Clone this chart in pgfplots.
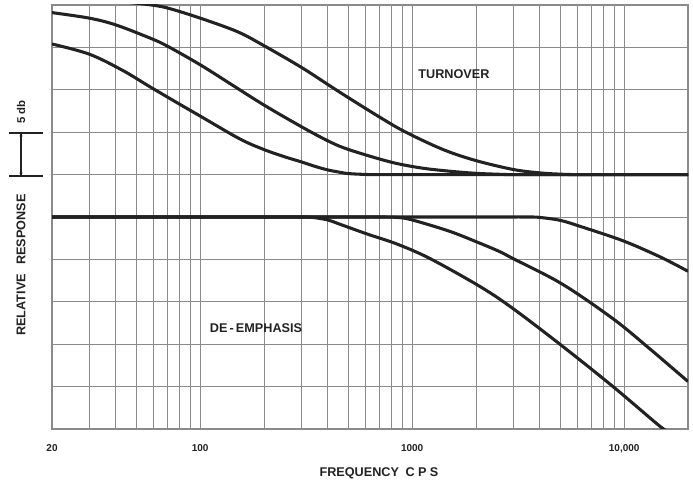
\documentclass[border=0pt]{standalone}
\usepackage{fontspec}
\setmainfont{Liberation Sans}
\usepackage{pgfplots}
\pgfplotsset{compat=1.18}
\definecolor{gridc}{HTML}{8A8A8A}
\definecolor{ink}{HTML}{222222}
\tikzset{curve/.style={ink, line width=2.3pt, smooth, tension=0.55, mark=none}}
\begin{document}
\begin{tikzpicture}[x=0.75pt,y=0.75pt]
\useasboundingbox (0,0) rectangle (693,484);
\begin{axis}[
  at={(39pt,41.25pt)}, anchor=south west,
  scale only axis, width=477pt, height=318pt,
  xmode=log, xmin=20, xmax=20000, ymin=-30, ymax=20,
  xtick={20,100,1000,10000,20000},
  xticklabels={20,100,1000,{10,000},},
  minor xtick={30,40,50,60,70,80,90,200,300,400,500,600,700,800,900,2000,3000,4000,5000,6000,7000,8000,9000},
  ytick={-30,-25,...,20}, yticklabels={},
  major tick length=0pt, minor tick length=0pt,
  grid=both,
  major grid style={gridc, line width=0.7pt},
  minor grid style={gridc, line width=0.7pt},
  axis line style={gridc, line width=0.8pt},
  /pgf/number format/assume math mode=true,
  xticklabel style={font=\bfseries\fontsize{7.5}{9}\selectfont, text=ink, yshift=-8pt},
  clip=true,
]
% turnover curves
\addplot[curve] coordinates {(20,20.75) (30,20.6) (40,20.44) (56,20.07) (70,19.65) (100,18.45) (150,16.85) (200,15.2) (300,12.65) (410,10.45) (509,8.95) (700,6.8) (925,5.05) (1400,2.95) (2000,1.65) (3000,0.6) (4000,0.2) (5000,0.05) (6000,0) (10000,0) (20000,0)};
\addplot[curve] coordinates {(20,19.1) (30,18.45) (40,17.65) (58,16.1) (70,15.15) (100,12.95) (143,10.5) (200,8.2) (300,5.65) (410,3.85) (509,2.9) (786,1.5) (1090,0.8) (1500,0.4) (2000,0.15) (2500,0.05) (3000,0) (6000,0) (20000,0)};
\addplot[curve] coordinates {(20,15.4) (30,14.2) (43,12.3) (58,10.35) (80,8.3) (100,6.9) (154,4.2) (200,2.95) (250,2.1) (300,1.5) (350,0.95) (400,0.55) (450,0.3) (500,0.12) (600,0.02) (700,0) (1500,0) (20000,0)};
% de-emphasis curves
\addplot[curve] coordinates {(20,-5) (100,-5) (200,-5) (300,-5) (340,-5.05) (400,-5.35) (450,-5.8) (612,-7.0) (850,-8.2) (1213,-9.9) (2089,-13.2) (2990,-15.8) (5093,-20.2) (8858,-25.0) (14290,-29.4) (16000,-30.3)};
\addplot[curve] coordinates {(20,-5) (200,-5) (500,-5) (700,-5) (850,-5.05) (1000,-5.35) (1507,-6.7) (2089,-8.1) (2595,-9.1) (2990,-9.9) (5093,-12.9) (8858,-17.0) (13000,-20.4) (20000,-24.4)};
\addplot[curve] coordinates {(20,-5) (300,-5) (1500,-5) (2500,-5) (3500,-5) (4000,-5.05) (5000,-5.4) (6190,-6.1) (9860,-7.8) (14760,-9.7) (20000,-11.4)};
\end{axis}
% labels
\node[font=\bfseries\fontsize{9.5}{11}\selectfont, text=ink] at (454,{484-74.5}) {TURNOVER};
\node[font=\bfseries\fontsize{9.5}{11}\selectfont, text=ink] at (256,{484-328}) {DE\,-\,EMPHASIS};
\node[font=\bfseries\fontsize{9.5}{11}\selectfont, text=ink] at (379,{484-473.5}) {FREQUENCY\hspace{5pt}C\hspace{2.5pt}P\hspace{2.5pt}S};
\node[font=\bfseries\fontsize{9.5}{11}\selectfont, text=ink, rotate=90] at (21,{484-265}) {RELATIVE\hspace{7pt}RESPONSE};
\node[font=\bfseries\fontsize{8.5}{10}\selectfont, text=ink, rotate=90] at (21,{484-112}) {5 db};
% 5 db scale marker
\draw[ink, line width=0.8pt] (9,{484-133}) -- (43,{484-133});
\draw[ink, line width=0.8pt] (9,{484-176}) -- (43,{484-176});
\draw[ink, line width=0.8pt] (21,{484-133}) -- (21,{484-176});
\fill[ink] (21,{484-136}) circle (1.6);
\fill[ink] (21,{484-173}) circle (1.6);
\end{tikzpicture}
\end{document}
